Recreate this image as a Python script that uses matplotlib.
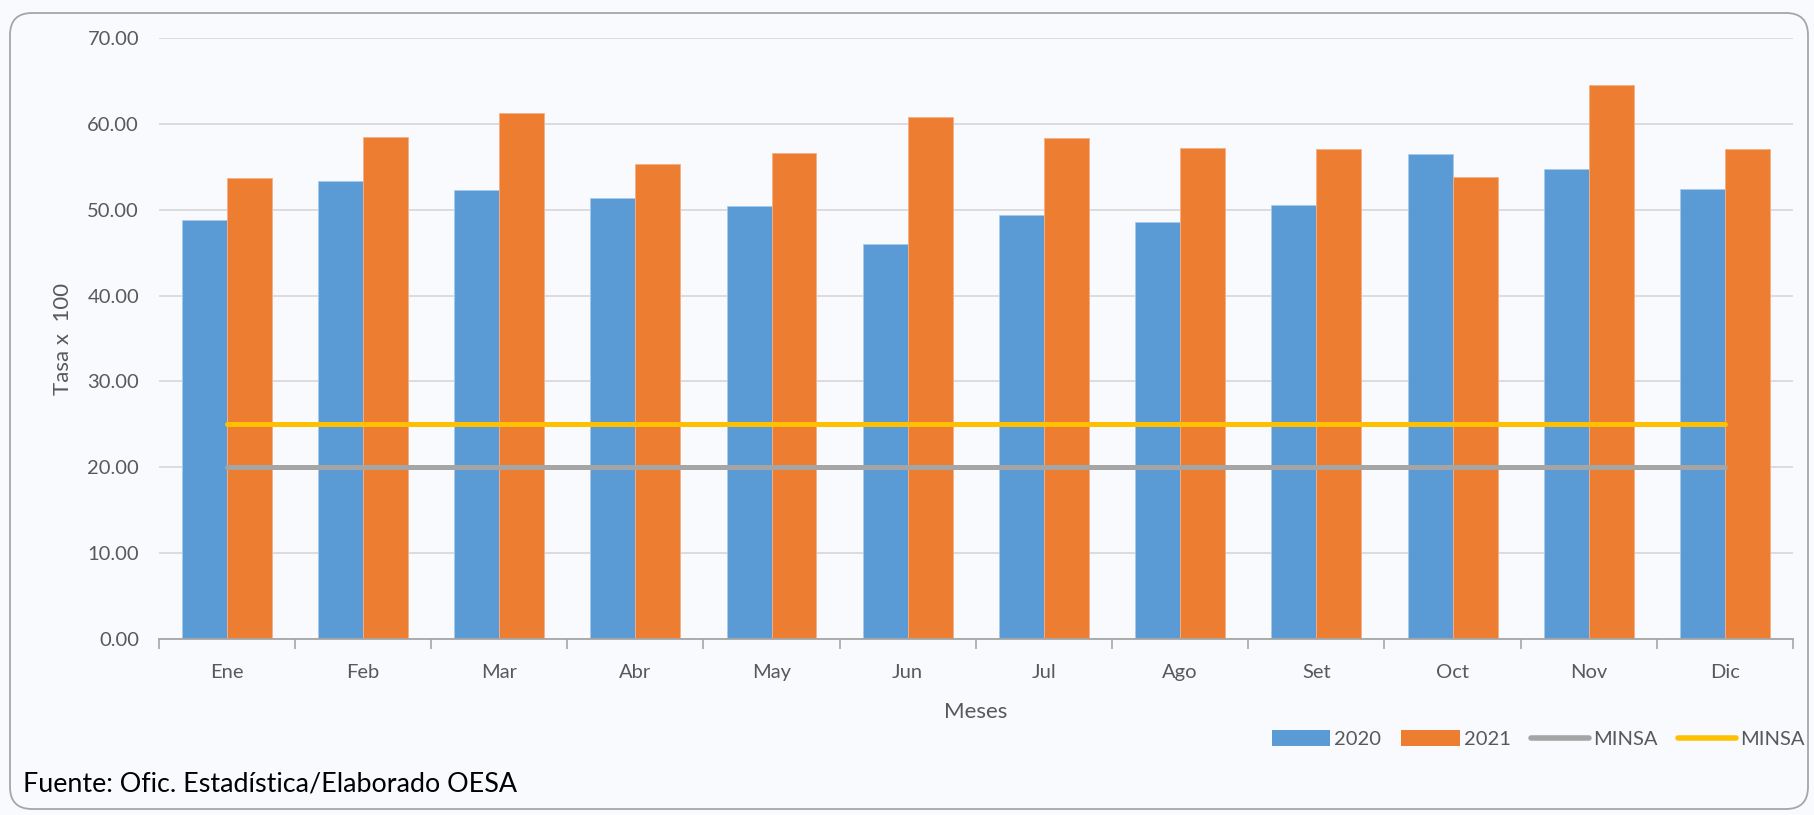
import matplotlib.pyplot as plt
import numpy as np
from matplotlib.patches import FancyBboxPatch, Patch
from matplotlib.lines import Line2D

plt.rcParams['font.family'] = ['Lato', 'DejaVu Sans']

meses = ['Ene', 'Feb', 'Mar', 'Abr', 'May', 'Jun', 'Jul', 'Ago', 'Set', 'Oct', 'Nov', 'Dic']
tasa_2020 = [48.8, 53.3, 52.3, 51.4, 50.5, 46.0, 49.4, 48.6, 50.6, 56.5, 54.7, 52.4]
tasa_2021 = [53.7, 58.5, 61.3, 55.3, 56.6, 60.8, 58.4, 57.2, 57.1, 53.8, 64.6, 57.1]
minsa_gris = [20.0] * 12
minsa_amarillo = [25.0] * 12

azul = '#5B9BD5'
naranja = '#ED7D31'
gris = '#A5A5A5'
amarillo = '#FFC000'
texto = '#595959'

fig = plt.figure(figsize=(18.14, 8.15), dpi=100)
fig.patch.set_facecolor('#F8FAFD')

# marco redondeado
marco = FancyBboxPatch((0.10, 0.06), 17.98, 7.96, boxstyle='round,pad=0,rounding_size=0.22',
                       transform=fig.dpi_scale_trans, facecolor='none', edgecolor='#A6A6A6',
                       linewidth=1.3, zorder=0)
fig.patches.append(marco)

ax = fig.add_axes([0.0874, 0.2163, 0.9011, 0.7368])
ax.patch.set_alpha(0)

x = np.arange(len(meses))
ancho = 0.33
ax.bar(x - ancho / 2, tasa_2020, width=ancho, color=azul, edgecolor='#A9C9EA', linewidth=0.6, label='2020', zorder=2)
ax.bar(x + ancho / 2, tasa_2021, width=ancho, color=naranja, edgecolor='#F3B08A', linewidth=0.6, label='2021', zorder=2)
ax.plot(x, minsa_gris, color=gris, linewidth=3.6, solid_capstyle='round', zorder=3)
ax.plot(x, minsa_amarillo, color=amarillo, linewidth=3.6, solid_capstyle='round', zorder=3)

ax.set_xlim(-0.5, 11.5)
ax.set_ylim(0, 70)
ax.set_yticks(np.arange(0, 71, 10))
ax.set_yticklabels([f'{v:.2f}' for v in np.arange(0, 71, 10)])
ax.yaxis.grid(True, color='#D9D9D9', linewidth=1.3, zorder=0)
ax.set_axisbelow(True)

ax.set_xticks(x)
ax.set_xticklabels(meses)
ax.set_xticks(np.arange(-0.5, 12, 1), minor=True)
ax.tick_params(axis='x', which='major', length=0, pad=18, labelsize=14.5, labelcolor=texto)
ax.tick_params(axis='x', which='minor', length=7, width=1.2, color='#A6A6A6', direction='out')
ax.tick_params(axis='y', length=0, pad=14, labelsize=14.5, labelcolor=texto)

for lado in ['top', 'right', 'left']:
    ax.spines[lado].set_visible(False)
ax.spines['bottom'].set_color('#A6A6A6')
ax.spines['bottom'].set_linewidth(1.3)

ax.set_xlabel('Meses', fontsize=16, color=texto, labelpad=15)
ax.set_ylabel('Tasa x  100', fontsize=16, color=texto, labelpad=10)

handles = [Patch(facecolor=azul, label='2020'),
           Patch(facecolor=naranja, label='2021'),
           Line2D([], [], color=gris, linewidth=4, solid_capstyle='round', label='MINSA'),
           Line2D([], [], color=amarillo, linewidth=4, solid_capstyle='round', label='MINSA')]
leg = fig.legend(handles=handles, loc='center right', bbox_to_anchor=(0.995, 0.093), ncol=4,
                 frameon=False, fontsize=14.5, handlelength=2.9, handleheight=0.8,
                 handletextpad=0.2, columnspacing=1.0, borderaxespad=0, borderpad=0)
for t in leg.get_texts():
    t.set_color(texto)

fig.text(0.0125, 0.038, 'Fuente: Ofic. Estadística/Elaborado OESA', fontsize=19.4, color='black',
         ha='left', va='center')

fig.savefig('out.png', dpi=100, facecolor=fig.get_facecolor())
